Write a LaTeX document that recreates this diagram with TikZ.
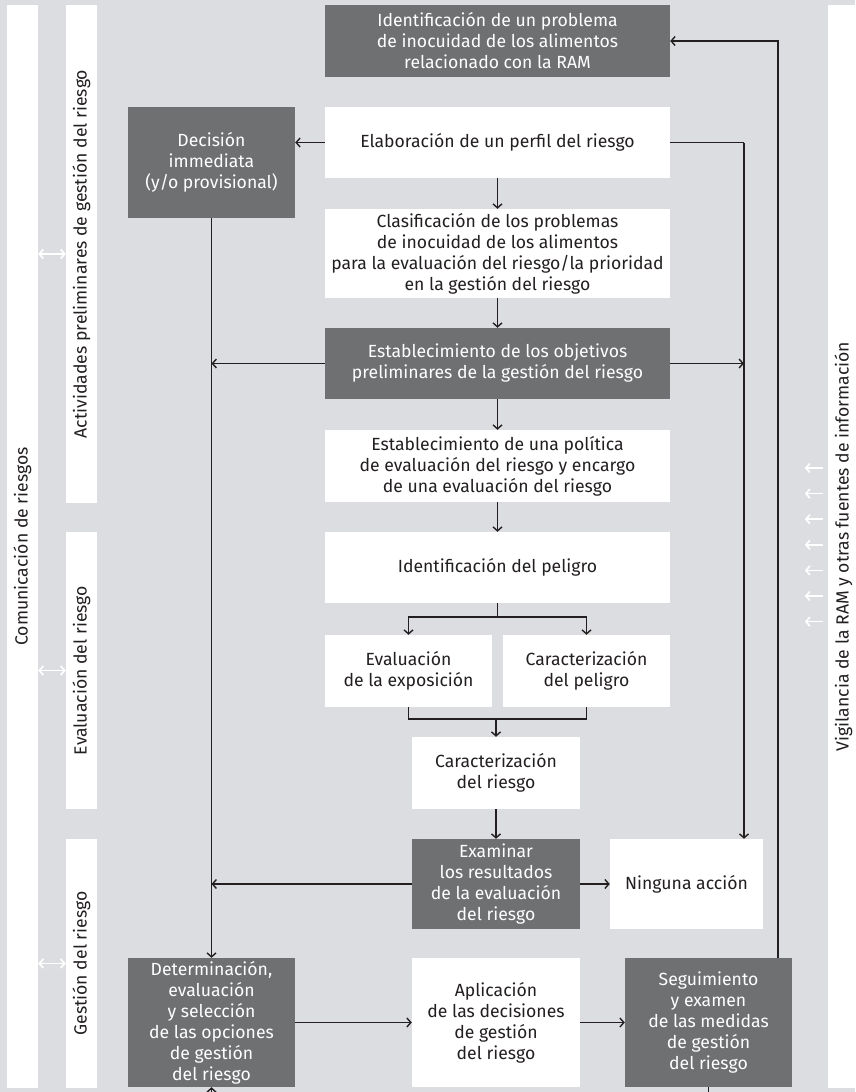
\documentclass[tikz,border=0pt]{standalone}
\usepackage{fontspec}
\setmainfont{Fira Sans}
\usepackage{graphicx}
\usetikzlibrary{arrows.meta,positioning,calc}
\definecolor{panelgray}{RGB}{220,221,224}
\definecolor{boxgray}{RGB}{111,112,114}
\definecolor{inkblack}{RGB}{35,31,32}
\newcommand{\boxfont}{\fontsize{17.6}{21}\selectfont}
\tikzset{
  darkbox/.style={fill=boxgray,text=white,align=center,inner sep=0pt,font=\boxfont},
  lightbox/.style={fill=white,text=inkblack,align=center,inner sep=0pt,font=\boxfont},
  strip/.style={fill=white,text=inkblack,minimum width=31,inner sep=0pt,font=\boxfont},
  wire/.style={draw=inkblack,line width=1.6pt},
  flow/.style={wire,-{Straight Barb[length=4pt,width=9pt,line width=1.4pt]}},
  twoway/.style={draw=white,line width=1.7pt,
    {Straight Barb[length=4pt,width=9pt]}-{Straight Barb[length=4pt,width=9pt]}},
  inflow/.style={draw=white,line width=1.7pt,-{Straight Barb[length=4pt,width=9pt]}}
}

\begin{document}
\begin{tikzpicture}[x=1pt,y=-1pt]
  \useasboundingbox (0,0) rectangle (855,1092);
  \fill[panelgray] (0,0) rectangle (855,1092);

  \node[strip,minimum height=1083] (comm) at (22.5,546.5)
    {\rotatebox{90}{Comunicación de riesgos}};
  \node[strip,minimum height=498] (prelim) at (81.5,254)
    {\rotatebox{90}{Actividades preliminares de gestión del riesgo}};
  \node[strip,minimum height=277] (assess) at (81.5,670.5)
    {\rotatebox{90}{Evaluación del riesgo}};
  \node[strip,minimum height=249] (manage) at (81.5,963.5)
    {\rotatebox{90}{Gestión del riesgo}};
  \node[strip,minimum height=1083] (vigil) at (843.5,546.5)
    {\rotatebox{90}{Vigilancia de la RAM y otras fuentes de información}};

  \foreach \s in {prelim,assess,manage}
    \draw[twoway] (comm.east |- \s.west) -- (\s.west);
  \foreach \k in {0,...,6}
    \draw[inflow] ($(vigil.west)+(-5,{-78.5+25.6*\k})$) -- ++(-18,0);

  \node[darkbox,minimum width=345,minimum height=72] (problem) at (497.5,41)
    {Identificación de un problema\\de inocuidad de los alimentos\\relacionado con la RAM};
  \node[lightbox,minimum width=345,minimum height=71] (profile) at (497.5,142.5)
    {Elaboración de un perfil del riesgo};
  \node[darkbox,minimum width=167,minimum height=111] (decision) at (211.5,162.5)
    {Decisión\\immediata\\(y/o provisional)};
  \node[lightbox,minimum width=345,minimum height=89] (ranking) at (497.5,253.5)
    {Clasificación de los problemas\\de inocuidad de los alimentos\\para la evaluación del riesgo/la prioridad\\en la gestión del riesgo};
  \node[darkbox,minimum width=345,minimum height=71] (goals) at (497.5,363.5)
    {Establecimiento de los objetivos\\preliminares de la gestión del riesgo};
  \node[lightbox,minimum width=345,minimum height=72] (policy) at (497.5,466)
    {Establecimiento de una política\\de evaluación del riesgo y encargo\\de una evaluación del riesgo};
  \node[lightbox,minimum width=345,minimum height=71] (hazardid) at (497.5,567.5)
    {Identificación del peligro};
  \node[lightbox,minimum width=167,minimum height=72] (exposure) at (408.5,671)
    {Evaluación\\de la exposición};
  \node[lightbox,minimum width=167,minimum height=72] (hazardchar) at (586.5,671)
    {Caracterización\\del peligro};
  \node[lightbox,minimum width=168,minimum height=72] (riskchar) at (496,773)
    {Caracterización\\del riesgo};
  \node[darkbox,minimum width=168,minimum height=90] (review) at (496,884)
    {Examinar\\los resultados\\de la evaluación\\del riesgo};
  \node[lightbox,minimum width=153,minimum height=90] (noaction) at (686.5,884)
    {Ninguna acción};
  \node[darkbox,minimum width=167,minimum height=129] (options) at (211.5,1022.5)
    {Determinación,\\evaluación\\y selección\\de las opciones\\de gestión\\del riesgo};
  \node[lightbox,minimum width=168,minimum height=129] (implement) at (496,1022.5)
    {Aplicación\\de las decisiones\\de gestión\\del riesgo};
  \node[darkbox,minimum width=167,minimum height=129] (monitor) at (708.5,1022.5)
    {Seguimiento\\y examen\\de las medidas\\de gestión\\del riesgo};

  \coordinate (rightrail) at (744,142.5);
  \coordinate (looprail) at (778,41);

  \draw[flow] (profile.west) -- (profile.west -| decision.east);
  \draw[wire] (profile.east) -- (rightrail);
  \draw[flow] (rightrail) -- (rightrail |- noaction.north);
  \draw[flow] (profile) -- (ranking);
  \draw[flow] (ranking) -- (goals);
  \draw[flow] (goals.west) -- (goals.west -| decision.south);
  \draw[flow] (goals.east) -- (goals.east -| rightrail);
  \draw[flow] (goals) -- (policy);
  \draw[flow] (policy) -- (hazardid);
  \draw[wire] (hazardid.south) -- ++(0,14) coordinate (fork);
  \draw[flow] (fork) -| (exposure.north);
  \draw[flow] (fork) -| (hazardchar.north);
  \draw[wire] (exposure.south) -- ++(0,12) -| (hazardchar.south);
  \path (riskchar.north) ++(0,-18) coordinate (join);
  \draw[flow] (join) -- (riskchar.north);
  \draw[flow] (riskchar) -- (review);
  \draw[flow] (review) -- (noaction);
  \draw[flow] (review.west) -- (review.west -| decision.south);
  \draw[flow] (decision) -- (options);
  \draw[flow] (options) -- (implement);
  \draw[flow] (implement) -- (monitor);
  \draw[flow] (monitor.north -| looprail) -- (looprail) -- (problem.east);
  \draw[flow] (monitor.south) -- ++(0,14) -| (options.south);
\end{tikzpicture}
\end{document}
